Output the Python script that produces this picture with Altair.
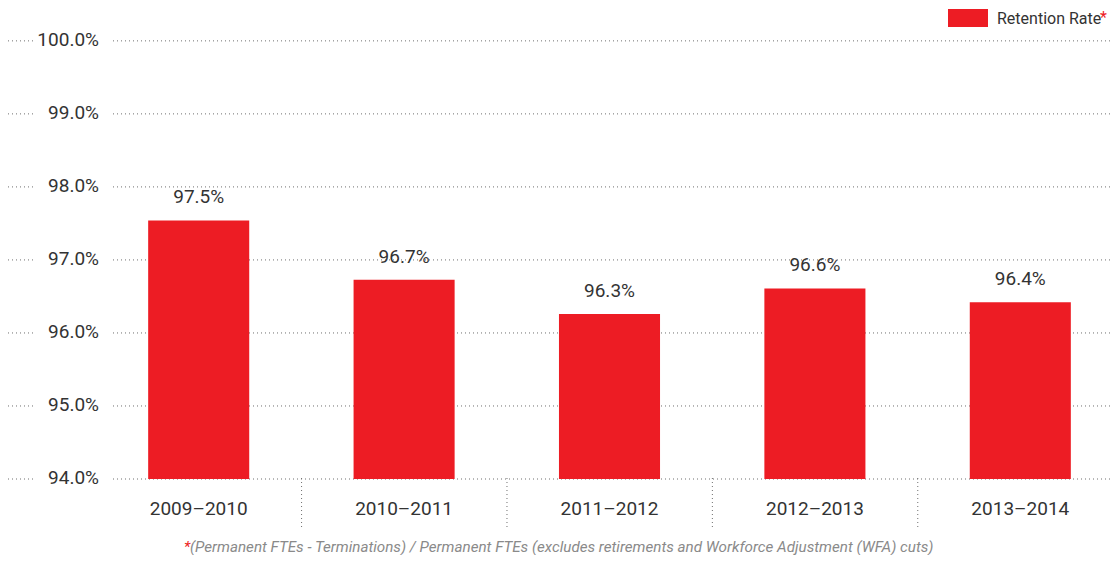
import altair as alt
import pandas as pd

# ---- data ----
categories = ["2009–2010", "2010–2011", "2011–2012", "2012–2013", "2013–2014"]
retention = [97.54, 96.73, 96.26, 96.61, 96.42]
value_labels = ["97.5%", "96.7%", "96.3%", "96.6%", "96.4%"]
y_ticks = [94, 95, 96, 97, 98, 99, 100]
y_tick_labels = ["94.0%", "95.0%", "96.0%", "97.0%", "98.0%", "99.0%", "100.0%"]
legend_label = ["Retention Rate"]
footnote = ["(Permanent FTEs - Terminations) / Permanent FTEs (excludes retirements and Workforce Adjustment (WFA) cuts)"]
asterisk = ["*"]

RED = "#ED1C24"
TEXT = "#333333"
GRID = "#6f6f6f"
FONT = "Roboto"

W, H = 1104, 471

bars_df = pd.DataFrame({"cat": categories, "val": retention, "lab": value_labels})
ticks_df = pd.DataFrame({"v": y_ticks, "lab": y_tick_labels})
div_df = pd.DataFrame({"cat": categories[1:]})
leg_df = pd.DataFrame({"lab": legend_label})
foot_df = pd.DataFrame({"lab": footnote})
ast_df = pd.DataFrame({"lab": asterisk})

yscale = alt.Scale(domain=[94, 100.45], nice=False, zero=False)
xscale = alt.Scale(domain=categories, range=[88, 1115], paddingInner=0.508, paddingOuter=0.254)

Y = alt.Y("v:Q", scale=yscale, axis=None)
X = alt.X("cat:N", scale=xscale, axis=None, sort=categories)

grid_right = alt.Chart(ticks_df).mark_rule(color=GRID, strokeDash=[1, 3], strokeWidth=1).encode(
    y=Y, x=alt.value(105), x2=alt.value(W)
)
grid_left = alt.Chart(ticks_df).mark_rule(color=GRID, strokeDash=[1, 3], strokeWidth=1).encode(
    y=Y, x=alt.value(0), x2=alt.value(25)
)
ylabels = alt.Chart(ticks_df).mark_text(
    align="right", baseline="middle", font=FONT, fontSize=19, color=TEXT, dy=-1
).encode(y=Y, x=alt.value(91), text="lab:N")

bars = alt.Chart(bars_df).mark_bar(color=RED).encode(
    x=X,
    y=alt.Y("val:Q", scale=yscale, axis=None),
    y2=alt.datum(94),
)
vlabels = alt.Chart(bars_df).mark_text(
    baseline="alphabetic", dy=-17, font=FONT, fontSize=19, color=TEXT
).encode(x=X, y=alt.Y("val:Q", scale=yscale, axis=None), text="lab:N")

xlabels = alt.Chart(bars_df).mark_text(
    baseline="alphabetic", font=FONT, fontSize=19, color=TEXT
).encode(x=X, y=alt.value(507), text="cat:N")

dividers = alt.Chart(div_df).mark_rule(color=GRID, strokeDash=[1, 3], strokeWidth=1, xOffset=-52).encode(
    x=alt.X("cat:N", scale=xscale, axis=None, sort=categories, bandPosition=0),
    y=alt.value(470), y2=alt.value(519),
)

leg_rect = alt.Chart(leg_df).mark_rect(color=RED).encode(
    x=alt.value(940), x2=alt.value(980), y=alt.value(1), y2=alt.value(19)
)
leg_text = alt.Chart(leg_df).mark_text(
    align="left", baseline="middle", font=FONT, fontSize=16, color=TEXT
).encode(x=alt.value(989), y=alt.value(11), text="lab:N")
leg_ast = alt.Chart(ast_df).mark_text(
    align="left", baseline="middle", font=FONT, fontSize=16, color=RED
).encode(x=alt.value(1092), y=alt.value(10), text="lab:N")

foot_ast = alt.Chart(ast_df).mark_text(
    align="left", baseline="alphabetic", font=FONT, fontSize=15, color=RED, fontStyle="italic"
).encode(x=alt.value(176), y=alt.value(544), text="lab:N")
foot_text = alt.Chart(foot_df).mark_text(
    align="left", baseline="alphabetic", font=FONT, fontSize=15.2, color="#8a8a8a", fontStyle="italic"
).encode(x=alt.value(182), y=alt.value(544), text="lab:N")

chart = alt.layer(
    grid_right, grid_left, ylabels, dividers, bars, vlabels, xlabels,
    leg_rect, leg_text, leg_ast, foot_ast, foot_text
).properties(
    width=W, height=H,
    autosize=alt.AutoSizeParams(type="none"),
    padding={"left": 0, "top": 0, "right": 0, "bottom": 76},
).configure(background="white").configure_view(stroke=None, strokeWidth=0)

chart.save("out.html", embed_options={"renderer": "svg", "actions": False})
